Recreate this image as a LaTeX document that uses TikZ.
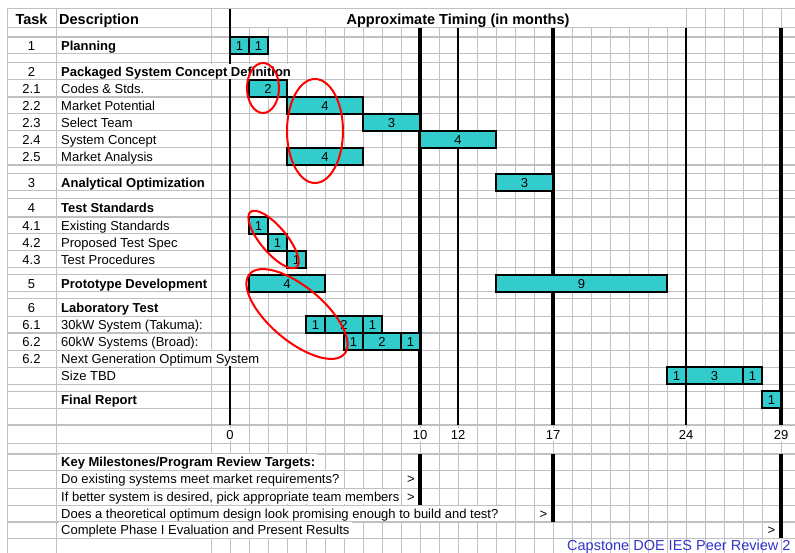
\documentclass[tikz,border=0pt]{standalone}
\usepackage{fontspec}
\setmainfont{Liberation Sans}
\usepackage{tikz}
\usetikzlibrary{positioning,calc}
\definecolor{BarCyan}{HTML}{33CCCC}
\definecolor{GridGray}{HTML}{C0C0C0}
\definecolor{NoteRed}{HTML}{FF0000}
\definecolor{FooterBlue}{HTML}{3333CC}

\begin{document}
\begin{tikzpicture}[x=1pt, y=-1pt, font=\fontsize{13}{15}\selectfont,
    gridline/.style={GridGray, line width=1pt},
    cell/.style={inner sep=0pt, text height=9.3pt, text depth=0pt},
    spill/.style={cell, anchor=west, fill=white, inner xsep=2pt, inner ysep=3pt},
    barcell/.style={cell, draw=black, line width=1.2pt, fill=BarCyan, minimum height=17pt},
    ring/.style={NoteRed, line width=2pt}]
  \useasboundingbox (0,0) rectangle (795,553);
  \clip (0,0) rectangle (795,553);
  \fill[white] (0,0) rectangle (795,553);
  % spreadsheet grid
  \foreach \y in {9,28,37,54,63,80,97,114,131,148,165,174,191,199,217,234,251,268,275,292,299,316,333,350,367,384,391,408,425,443,454,470,488,505,522,538}
    \draw[gridline] (7,\y) -- (795,\y);
  \foreach \y in {37,97,165,217,333,425,454,522}
    \draw[gridline, line width=1.8pt] (7,\y) -- (795,\y);
  \foreach \x in {7,56,211}
    \draw[gridline] (\x,9) -- (\x,553);
  \foreach \m in {0,...,23}
    \draw[gridline] ({230+19*\m},28) -- ({230+19*\m},553);
  \foreach \m in {24,...,30}
    \draw[gridline] ({230+19*\m},9) -- ({230+19*\m},553);
  % month markers
  \draw[line width=1.5pt] (230,9) -- (230,425);
  \foreach \m in {12,24}
    \draw[line width=2pt] ({230+19*\m},28) -- ({230+19*\m},425);
  \foreach \m/\e in {10/505,17/522,29/538} {
    \draw[line width=3.5pt] ({230+19*\m},28) -- ({230+19*\m},425);
    \draw[line width=3.5pt] ({230+19*\m},454) -- ({230+19*\m},\e);
  }
  % bars
  \foreach \nm/\yc/\a/\b/\n in {b1a/45.5/0/1/1, b1b/45.5/1/2/1,
      b21/88.5/1/3/2, b22/105.5/3/7/4, b23/122.5/7/10/3, b24/139.5/10/14/4, b25/156.5/3/7/4,
      b3/182.5/14/17/3,
      b41/225.5/1/2/1, b42/242.5/2/3/1, b43/259.5/3/4/1,
      b5a/283.5/1/5/4, b5b/283.5/14/23/9,
      b61a/324.5/4/5/1, b61b/324.5/5/7/2, b61c/324.5/7/8/1,
      b62a/341.5/6/7/1, b62b/341.5/7/9/2, b62c/341.5/9/10/1,
      bsa/375.5/23/24/1, bsb/375.5/24/27/3, bsc/375.5/27/28/1,
      bfr/399.5/28/29/1}
    \node[barcell, minimum width={19pt*(\b-\a)}] (\nm) at ({230+9.5*(\a+\b)},\yc) {\n};
  % headers
  \node[cell, text height=10.4pt, font=\fontsize{14.5}{17}\selectfont\bfseries] (hdtask) at (31.5,19) {Task};
  \node[cell, anchor=west, text height=10.4pt, font=\fontsize{14.5}{17}\selectfont\bfseries] (hddesc) at (59,19) {Description};
  \node[cell, text height=10.4pt, font=\fontsize{14.5}{17}\selectfont\bfseries] (hdtime) at (458,19) {Approximate Timing (in months)};
  % task rows
  \foreach \nm/\yc/\num/\desc in {r1/45.5/1/\textbf{Planning},
      r2/71.5/2/\textbf{Packaged System Concept Definition},
      r21/88.5/2.1/Codes \& Stds., r22/105.5/2.2/Market Potential,
      r23/122.5/2.3/Select Team, r24/139.5/2.4/System Concept,
      r25/156.5/2.5/Market Analysis,
      r3/182.5/3/\textbf{Analytical Optimization},
      r4/208/4/\textbf{Test Standards},
      r41/225.5/4.1/Existing Standards, r42/242.5/4.2/Proposed Test Spec,
      r43/259.5/4.3/Test Procedures,
      r5/283.5/5/\textbf{Prototype Development},
      r6/307.5/6/\textbf{Laboratory Test},
      r61/324.5/6.1/30kW System (Takuma):, r62/341.5/6.2/60kW Systems (Broad):,
      r63/358.5/6.2/Next Generation Optimum System,
      r7/375.5//Size TBD,
      r8/399.5//\textbf{Final Report}} {
    \node[cell] (num\nm) at (31.5,\yc) {\num};
    \node[spill] (desc\nm) at (59,\yc) {\desc};
  }
  % month axis
  \foreach \m in {0,10,12,17,24,29}
    \node[cell, fill=white, inner xsep=1pt, inner ysep=2pt] (ax\m) at ({230+19*\m},434.5) {\m};
  % milestones
  \node[spill] (ms0) at (59,462) {\textbf{Key Milestones/Program Review Targets:}};
  \node[spill] (ms1) at (59,479) {Do existing systems meet market requirements?};
  \node[spill] (ms2) at (59,496.5) {If better system is desired, pick appropriate team members};
  \node[spill] (ms3) at (59,513.5) {Does a theoretical optimum design look promising enough to build and test?};
  \node[spill] (ms4) at (59,530) {Complete Phase I Evaluation and Present Results};
  \node[cell] (gt1) at (411,479) {>};
  \node[cell] (gt2) at (411,496.5) {>};
  \node[cell] (gt3) at (543.5,513.5) {>};
  \node[cell] (gt4) at (771.5,530) {>};
  % hand-drawn rings
  \draw[ring] (263,88) ellipse [x radius=16pt, y radius=25pt];
  \draw[ring] (315,131) ellipse [x radius=28pt, y radius=52pt];
  \draw[ring, rotate around={-50:(273.5,239.5)}] (273.5,239.5) ellipse [x radius=36pt, y radius=13pt];
  \draw[ring, rotate around={-40:(297,314)}] (297,314) ellipse [x radius=62pt, y radius=27pt];
  \node[anchor=base west, inner sep=0pt, text=FooterBlue, font=\fontsize{14.5}{17}\selectfont] (footer) at (567,550) {Capstone DOE IES Peer Review 2};
\end{tikzpicture}
\end{document}
